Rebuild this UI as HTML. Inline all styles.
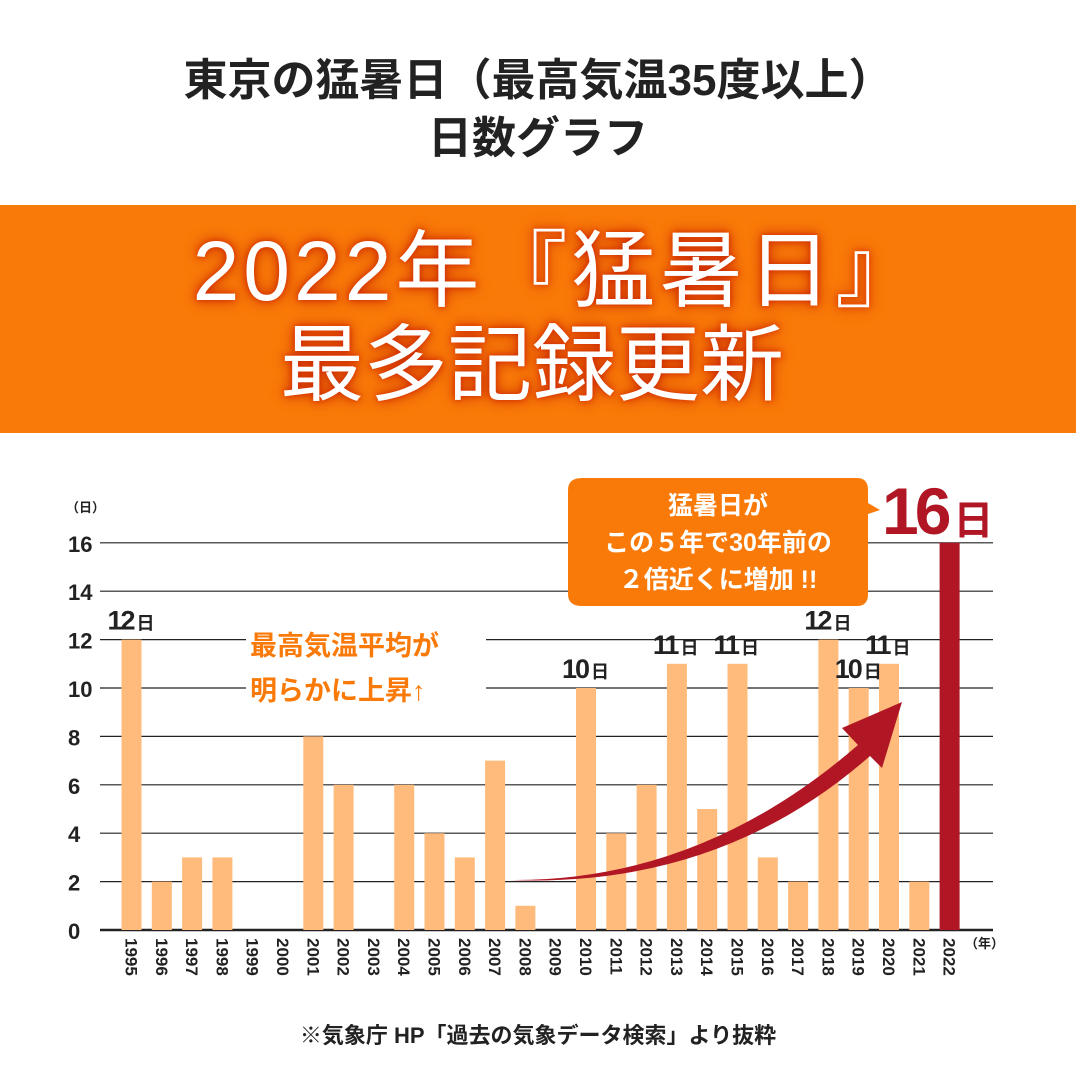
<!DOCTYPE html>
<html><head><meta charset="utf-8"><style>
body{margin:0;width:1076px;height:1076px;background:#fff;overflow:hidden;font-family:"Liberation Sans","Noto Sans CJK JP",sans-serif}
.t{position:absolute;left:0;width:1076px;text-align:center;font-weight:bold;color:#222}
</style></head><body>
<div class="t" style="top:52px;font-size:44px;line-height:58px">東京の猛暑日（最高気温35度以上）<br>日数グラフ</div>
<div style="position:absolute;left:0;top:205px;width:1076px;height:228px;background:#f97a08"></div>
<div class="t" style="top:224px;font-size:84px;line-height:94px;letter-spacing:4px;color:#fff;font-weight:normal;text-shadow:0 0 14px #c02000,0 0 6px #e03000"><span style="position:relative;left:20px">2022年『猛暑日』</span><br><span style="position:relative;left:-6px;letter-spacing:0">最多記録更新</span></div>
<svg id="c" width="1076" height="1076" style="position:absolute;left:0;top:0"></svg>
<div class="t" style="top:1018px;font-size:22px;color:#222">※気象庁 HP「過去の気象データ検索」より抜粋</div>
<script>
const years=[1995,1996,1997,1998,1999,2000,2001,2002,2003,2004,2005,2006,2007,2008,2009,2010,2011,2012,2013,2014,2015,2016,2017,2018,2019,2020,2021,2022];
const days=[12,2,3,3,0,0,8,6,0,6,4,3,7,1,0,10,4,6,11,5,11,3,2,12,10,11,2,16];
const yTicks=[0,2,4,6,8,10,12,14,16];
const labeled=[1995,2010,2013,2015,2018,2019,2020];
const NS="http://www.w3.org/2000/svg",svg=document.getElementById('c');
const y=v=>930-v*24.2, x=i=>131.5+i*30.3;
function mk(t,a,txt){const e=document.createElementNS(NS,t);for(const k in a)e.setAttribute(k,a[k]);if(txt!=null)e.textContent=txt;svg.appendChild(e);return e;}
yTicks.forEach(v=>{
 const l=mk('line',{x1:100,x2:993,y1:y(v),y2:y(v),stroke:'#222','stroke-width':v?1.2:2.5});
 
 
 const t=mk('text',{x:68,y:y(v)+9,'font-size':22,'font-weight':'bold',fill:'#222','font-family':'Liberation Sans'},v);
 
 
});
const u=mk('text',{x:66,y:512,'font-size':13,'font-weight':'bold',fill:'#222'},'（日）');


const yu=mk('text',{x:965,y:948,'font-size':13,'font-weight':'bold',fill:'#222'},'（年）');


years.forEach((yr,i)=>{
 const last=yr===2022;
 const r=mk('rect',{x:x(i)-10,y:y(days[i]),width:20,height:930-y(days[i]),fill:last?'#b01623':'#ffbb7c'});
 
 
 const t=mk('text',{transform:`translate(${x(i)-6},938) rotate(90)`,'font-size':17,'font-weight':'bold',fill:'#222'},yr);
 
 
});
const a=mk('path',{d:'M510 880 Q700 882 858 745 L842 728 L902 702 L882 768 L870 756 Q720 888 510 880 Z',fill:'#b01623'});


labeled.forEach(yr=>{
 const i=years.indexOf(yr);
 const t=mk('text',{x:x(i)-24,y:y(days[i])-10,'font-size':27,'font-weight':'bold',fill:'#222','letter-spacing':-2},null);
 t.innerHTML=days[i]+'<tspan font-size="18" dx="3">日</tspan>';
 
 
});
mk('rect',{x:246,y:622,width:240,height:90,fill:'#fff'});
const n1=mk('text',{x:250,y:655,'font-size':27,'font-weight':'bold',fill:'#f97a08'},'最高気温平均が');


mk('text',{x:250,y:700,'font-size':27,'font-weight':'bold',fill:'#f97a08'},'明らかに上昇↑');
const b=mk('path',{d:'M582 478 H857 Q868 478 868 490 V503 L880 510 L868 514 V594 Q868 606 857 606 H582 Q568 606 568 594 V490 Q568 478 582 478 Z',fill:'#f97a08'});


['猛暑日が','この５年で30年前の','２倍近くに増加 !!'].forEach((s,k)=>{
 const t=mk('text',{x:718,y:514+k*37,'font-size':25,'font-weight':'bold',fill:'#fff','text-anchor':'middle'},s);
 
 
});
const big=mk('text',{x:882,y:534,'font-size':66,'font-weight':'bold',fill:'#b01623','letter-spacing':-4},null);
big.innerHTML='16<tspan font-size="40" dx="6">日</tspan>';


</script>
</body></html>
